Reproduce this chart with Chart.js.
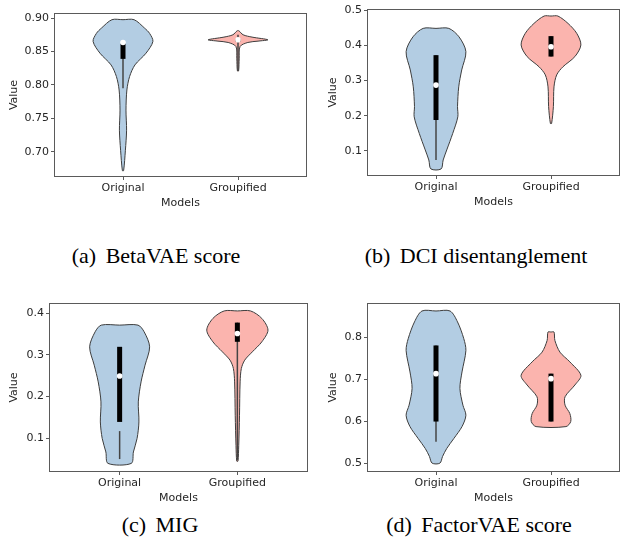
<!DOCTYPE html>
<html>
<head>
<meta charset="utf-8">
<script src="https://cdn.jsdelivr.net/npm/chart.js@4.4.1/dist/chart.umd.min.js"></script>
<style>
  body { margin: 0; background: #fff; width: 624px; height: 543px; position: relative; overflow: hidden; }
  .panel { position: absolute; }
  .cap { position: absolute; width: 312px; text-align: center; white-space: pre;
         font-family: 'Liberation Serif', 'Times New Roman', serif; font-size: 22px; line-height: 24px; color: #000; }
  .cap span { margin-right: 4px; }
</style>
</head>
<body>
<div class="panel" style="left:0;top:0;width:312px;height:210px"><canvas id="chartA"></canvas></div>
<div class="panel" style="left:312px;top:0;width:312px;height:209px"><canvas id="chartB"></canvas></div>
<div class="panel" style="left:0;top:290px;width:312px;height:215px"><canvas id="chartC"></canvas></div>
<div class="panel" style="left:312px;top:290px;width:312px;height:215px"><canvas id="chartD"></canvas></div>
<div class="cap" style="left:0;top:244px"><span>(a)</span> BetaVAE score</div>
<div class="cap" style="left:320px;top:244px"><span>(b)</span> DCI disentanglement</div>
<div class="cap" style="left:4px;top:513px"><span>(c)</span> MIG</div>
<div class="cap" style="left:323px;top:513px"><span>(d)</span> FactorVAE score</div>
<script>
const categories = ['Original', 'Groupified'];

// (a) BetaVAE score
const betaTicks = ['0.70', '0.75', '0.80', '0.85', '0.90'];
const betaOrigLevels  = [0.8975, 0.885, 0.877, 0.865, 0.8475, 0.83, 0.8125, 0.7925, 0.7625, 0.7325, 0.7025, 0.672];
const betaOrigDensity = [0.37, 0.72, 0.89, 1.0, 0.77, 0.40, 0.22, 0.13, 0.10, 0.12, 0.08, 0.02];
const betaGrpLevels  = [0.881, 0.875, 0.8715, 0.8675, 0.8655, 0.8635, 0.8575, 0.84, 0.821];
const betaGrpDensity = [0.03, 0.17, 0.47, 1.0, 0.67, 0.33, 0.07, 0.04, 0.02];
const betaQ1 = [0.839, 0.865];
const betaQ3 = [0.862, 0.869];
const betaMedian = [0.8635, 0.8675];
const betaWhiskerLow = [0.795, 0.821];
const betaWhiskerHigh = [0.867, 0.875];

// (b) DCI disentanglement
const dciTicks = ['0.1', '0.2', '0.3', '0.4', '0.5'];
const dciOrigLevels  = [0.448, 0.424, 0.382, 0.33, 0.282, 0.226, 0.197, 0.15, 0.103, 0.0745, 0.049];
const dciOrigDensity = [0.43, 0.77, 1.0, 0.86, 0.76, 0.72, 0.73, 0.56, 0.36, 0.24, 0.17];
const dciGrpLevels  = [0.483, 0.462, 0.434, 0.401, 0.368, 0.339, 0.316, 0.282, 0.226, 0.178];
const dciGrpDensity = [0.23, 0.57, 0.86, 1.0, 0.80, 0.40, 0.19, 0.10, 0.08, 0.02];
const dciQ1 = [0.188, 0.368];
const dciQ3 = [0.372, 0.426];
const dciMedian = [0.287, 0.396];
const dciWhiskerLow = [0.0745, 0.368];
const dciWhiskerHigh = [0.372, 0.426];

// (c) MIG
const migTicks = ['0.1', '0.2', '0.3', '0.4'];
const migOrigLevels  = [0.371, 0.355, 0.319, 0.275, 0.235, 0.187, 0.139, 0.0995, 0.067, 0.0396];
const migOrigDensity = [0.60, 0.80, 0.98, 0.83, 0.70, 0.61, 0.63, 0.57, 0.45, 0.38];
const migGrpLevels  = [0.405, 0.387, 0.359, 0.331, 0.307, 0.287, 0.267, 0.235, 0.155, 0.083, 0.045];
const migGrpDensity = [0.43, 0.80, 1.0, 0.80, 0.49, 0.24, 0.13, 0.09, 0.07, 0.045, 0.02];
const migQ1 = [0.139, 0.331];
const migQ3 = [0.319, 0.377];
const migMedian = [0.249, 0.351];
const migWhiskerLow = [0.05, 0.048];
const migWhiskerHigh = [0.117, 0.377];

// (d) FactorVAE score
const fvaeTicks = ['0.5', '0.6', '0.7', '0.8'];
const fvaeOrigLevels  = [0.862, 0.836, 0.796, 0.768, 0.717, 0.678, 0.638, 0.614, 0.587, 0.559, 0.535, 0.516, 0.5];
const fvaeOrigDensity = [0.47, 0.72, 0.93, 1.0, 0.87, 0.80, 0.90, 1.0, 0.87, 0.60, 0.36, 0.22, 0.13];
const fvaeGrpLevels  = [0.812, 0.792, 0.764, 0.741, 0.709, 0.686, 0.658, 0.638, 0.618, 0.599, 0.587];
const fvaeGrpDensity = [0.10, 0.13, 0.30, 0.63, 1.0, 0.80, 0.47, 0.47, 0.63, 0.66, 0.50];
const fvaeQ1 = [0.599, 0.599];
const fvaeQ3 = [0.78, 0.713];
const fvaeMedian = [0.713, 0.701];
const fvaeWhiskerLow = [0.551, 0.599];
const fvaeWhiskerHigh = [0.78, 0.713];

const violinColors = ['#b3cde3', '#fbb4ae'];
const halfWidth = 0.26;

Chart.defaults.font.family = "'DejaVu Sans', sans-serif";
Chart.defaults.font.size = 11;
Chart.defaults.color = '#262626';

// box around the plotting area
const framePlugin = {
  id: 'frame',
  afterDraw(chart) {
    const { ctx, chartArea: a } = chart;
    ctx.save();
    ctx.strokeStyle = '#5a5a5a';
    ctx.lineWidth = 1;
    ctx.strokeRect(Math.round(a.left) + 0.5, Math.round(a.top) + 0.5,
      Math.round(a.right - a.left) - 1, Math.round(a.bottom - a.top) - 1);
    ctx.restore();
  }
};

function outline(pos, levels, density) {
  const right = levels.map((v, i) => ({ x: pos + density[i] * halfWidth, y: v }));
  const left = levels.map((v, i) => ({ x: pos - density[i] * halfWidth, y: v })).reverse();
  const top = { x: pos, y: levels[0] };
  return [top, ...right, ...left, top];
}

function violinDatasets(violins, q1, q3, median, wLow, wHigh) {
  const sets = [];
  violins.forEach((v, i) => {
    sets.push({
      data: outline(i, v[0], v[1]),
      showLine: true,
      fill: 'shape',
      backgroundColor: violinColors[i],
      borderColor: '#3d3d3d',
      borderWidth: 1,
      pointRadius: 0,
      tension: 0.3,
      order: 4
    });
    sets.push({
      data: [{ x: i, y: wLow[i] }, { x: i, y: wHigh[i] }],
      showLine: true,
      borderColor: '#444',
      borderWidth: 1.5,
      pointRadius: 0,
      order: 3
    });
    sets.push({
      data: [{ x: i, y: q1[i] }, { x: i, y: q3[i] }],
      showLine: true,
      borderColor: '#000',
      borderWidth: 5,
      borderCapStyle: 'butt',
      pointRadius: 0,
      order: 2
    });
    sets.push({
      data: [{ x: i, y: median[i] }],
      showLine: false,
      pointRadius: 2.8,
      pointBackgroundColor: '#fff',
      pointBorderWidth: 0,
      order: 1
    });
  });
  return sets;
}

function makeChart(id, datasets, tickLabels, yMin, yMax, opts) {
  const ctx = document.getElementById(id).getContext('2d');
  return new Chart(ctx, {
    type: 'scatter',
    data: { datasets: datasets },
    options: {
      responsive: true,
      maintainAspectRatio: false,
      animation: false,
      layout: { padding: { top: opts.top, right: opts.right, left: 0, bottom: 0 } },
      plugins: { legend: { display: false }, tooltip: { enabled: false } },
      scales: {
        x: {
          type: 'linear',
          min: -0.6,
          max: 1.6,
          afterBuildTicks: scale => { scale.ticks = categories.map((c, i) => ({ value: i })); },
          afterFit: scale => { scale.height = 33; },
          ticks: { autoSkip: false, maxRotation: 0, padding: 2, callback: v => categories[v] },
          grid: { display: true, drawOnChartArea: false, tickLength: 3, color: '#5a5a5a' },
          border: { display: false },
          title: { display: true, text: 'Models', padding: { top: 0, bottom: 0 } }
        },
        y: {
          min: yMin,
          max: yMax,
          afterBuildTicks: scale => { scale.ticks = tickLabels.map(t => ({ value: parseFloat(t) })); },
          afterFit: scale => { scale.width = opts.yWidth; },
          ticks: { autoSkip: false, padding: 2, callback: (v, i) => tickLabels[i] },
          grid: { display: true, drawOnChartArea: false, tickLength: 3, color: '#5a5a5a' },
          border: { display: false },
          title: { display: true, text: 'Value', padding: { top: opts.titlePad, bottom: 0 } }
        }
      }
    },
    plugins: [framePlugin]
  });
}

makeChart('chartA',
  violinDatasets([[betaOrigLevels, betaOrigDensity], [betaGrpLevels, betaGrpDensity]],
    betaQ1, betaQ3, betaMedian, betaWhiskerLow, betaWhiskerHigh),
  betaTicks, 0.6626, 0.9075, { top: 13, right: 5, yWidth: 54, titlePad: 7.4 });

makeChart('chartB',
  violinDatasets([[dciOrigLevels, dciOrigDensity], [dciGrpLevels, dciGrpDensity]],
    dciQ1, dciQ3, dciMedian, dciWhiskerLow, dciWhiskerHigh),
  dciTicks, 0.029, 0.503, { top: 9, right: 1, yWidth: 55, titlePad: 15 });

makeChart('chartC',
  violinDatasets([[migOrigLevels, migOrigDensity], [migGrpLevels, migGrpDensity]],
    migQ1, migQ3, migMedian, migWhiskerLow, migWhiskerHigh),
  migTicks, 0.019, 0.424, { top: 13, right: 4, yWidth: 49, titlePad: 7.4 });

makeChart('chartD',
  violinDatasets([[fvaeOrigLevels, fvaeOrigDensity], [fvaeGrpLevels, fvaeGrpDensity]],
    fvaeQ1, fvaeQ3, fvaeMedian, fvaeWhiskerLow, fvaeWhiskerHigh),
  fvaeTicks, 0.479, 0.881, { top: 13, right: 1, yWidth: 55, titlePad: 15 });
</script>
</body>
</html>
